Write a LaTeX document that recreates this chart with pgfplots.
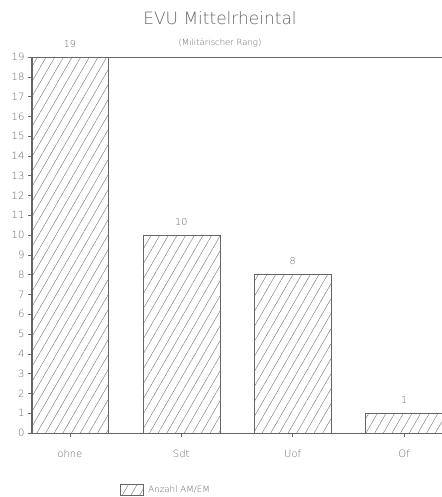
\documentclass[border=0pt]{standalone}
\usepackage{fontspec}
\setmainfont{DejaVu Sans ExtraLight}
\usepackage{pgfplots}
\pgfplotsset{compat=1.18}
\usetikzlibrary{patterns.meta,calc}
\definecolor{ink}{gray}{0.4}
\begin{document}
\begin{tikzpicture}[x=1pt,y=1pt]
\begin{axis}[
  scale only axis, width=420pt, height=376pt,
  xmin=-0.34, xmax=3.43, ymin=0, ymax=19,
  clip=false,
  axis line style={ink, line width=0.5pt},
  ytick={0,...,19},
  xtick={0,1,2,3}, xticklabels={ohne,Sdt,Uof,Of},
  xtick pos=bottom, ytick pos=left,
  tick align=outside, tick style={ink, line width=0.5pt},
  major tick length=4pt,
  tick label style={ink, font=\fontsize{10}{11}\selectfont},
  xticklabel style={yshift=-9pt},
  /pgf/number format/assume math mode=true,
  ybar, bar width=77pt,
  nodes near coords,
  every node near coord/.append style={ink, font=\fontsize{9.5}{10}\selectfont, yshift=6pt},
  legend style={at={(axis cs:0.42,-2.88)}, anchor=west, draw=none, fill=none,
    font=\fontsize{8.7}{9}\selectfont, text=ink, nodes={inner xsep=5pt}},
  legend image code/.code={\draw[#1] (0,-5.5pt) rectangle (23pt,5.5pt);},
]
\addplot[draw=ink, line width=0.5pt, pattern={Lines[angle=60, distance=7.5pt, line width=0.35pt]}, pattern color=ink]
  coordinates {(0,19) (1,10) (2,8) (3,1)};
\addlegendentry{Anzahl AM/EM}
\coordinate (O) at (rel axis cs:0,0);
\end{axis}
\pgfresetboundingbox
\useasboundingbox ($(O)+(-32,-64)$) rectangle ($(O)+(409,433)$);
\node[ink, font=\fontsize{17}{20}\selectfont] at ($(O)+(188,415)$) {EVU Mittelrheintal};
\node[ink, font=\fontsize{8.5}{10}\selectfont] at ($(O)+(188,390)$) {(Militärischer Rang)};
\end{tikzpicture}
\end{document}
